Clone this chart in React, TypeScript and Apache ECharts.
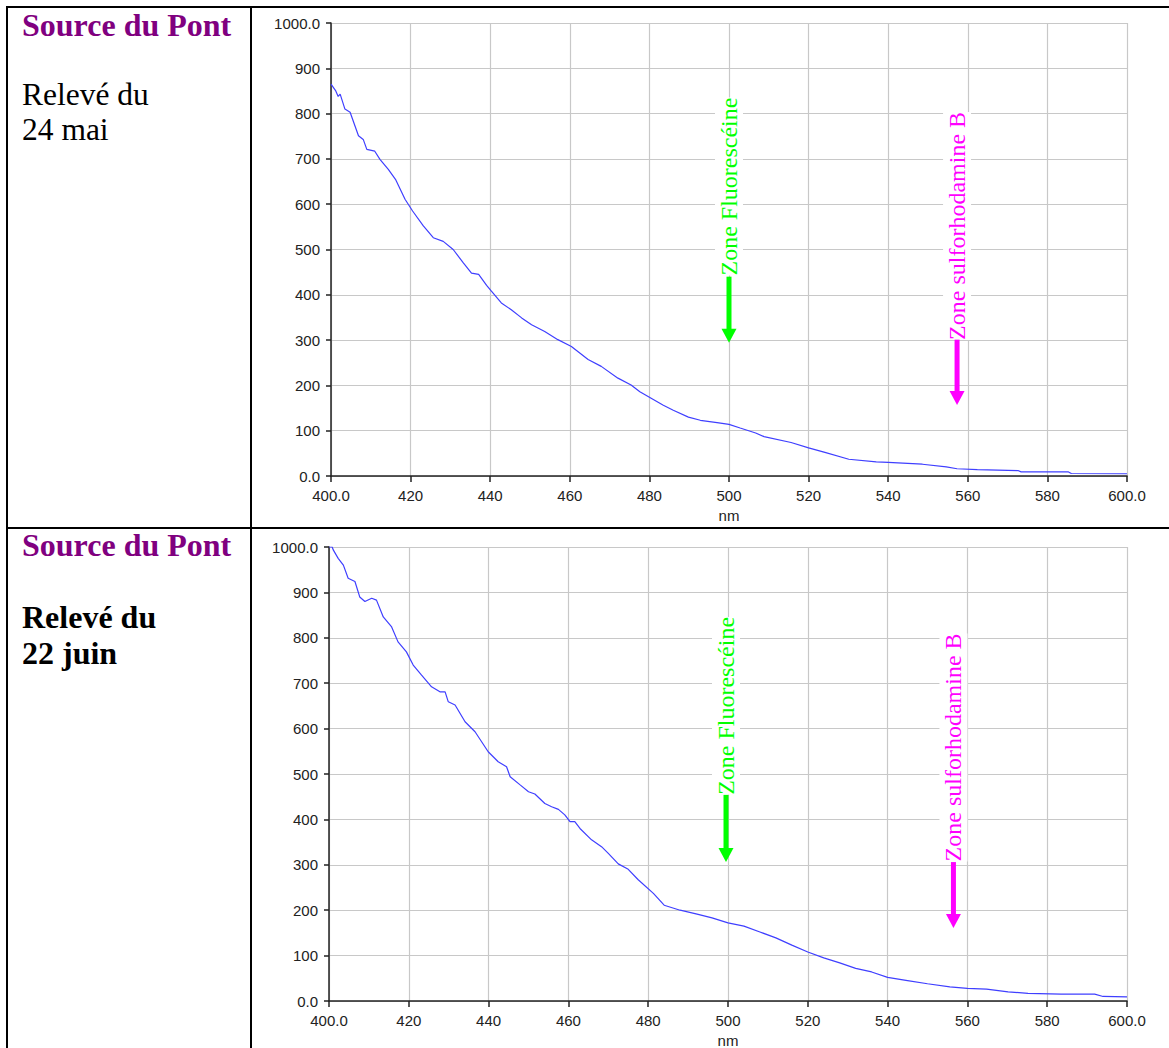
import React, { useEffect, useRef } from "react";
import * as echarts from "echarts";

// ---- Data: relevé du 24 mai ----
const nm1 = [
  400, 401.2, 401.8, 402.3, 403.5, 404.8, 406.9, 408.1, 409, 411, 412.3, 414.4, 416.2,
  418.6, 420.5, 423.2, 425.7, 428.2, 430.7, 433.2, 435.3, 437.1, 439.1, 440.3, 442.8,
  445.3, 447.9, 450.4, 453.7, 457, 460.4, 464.6, 467.9, 472.1, 475.4, 477.6, 480,
  483.5, 486, 489.8, 492.8, 497, 500, 502.8, 506.7, 508.8, 515.6, 520, 524.1, 530.1,
  537, 540, 548.6, 554.6, 557.3, 562.4, 572.6, 573.4, 585.3, 586, 600,
];
const val1 = [
  865, 850, 838, 843, 810, 803, 751, 743, 721, 717, 699, 677, 655,
  611, 585, 552, 526, 518, 500, 471, 448, 445, 421, 408, 382,
  367, 349, 334, 319, 301, 286, 257, 242, 216, 201, 186, 174,
  156, 145, 130, 123, 118, 114, 106, 95, 87, 74, 62, 52, 37,
  31, 30, 26, 20, 16, 14, 12, 9, 9, 5.5, 5,
];

// ---- Data: relevé du 22 juin ----
const nm2 = [
  400, 400.8, 401.1, 402.3, 403.6, 404.8, 406.5, 407.7, 409, 410.7, 411.9, 413.6, 415.7,
  417.3, 419.4, 421.1, 423.2, 425.7, 427.8, 429.1, 429.9, 431.6, 434.1, 436.6, 439.9,
  442.4, 444.5, 445.4, 447.9, 450, 451.6, 454.1, 455.8, 457.5, 459.1, 460.4, 461.6,
  462.9, 465.8, 468.3, 470, 472.5, 475, 477.5, 481.3, 484, 488, 492, 496, 500, 504,
  508, 512, 516, 520, 524, 528, 532, 536, 540, 545, 550, 555.6, 560, 564.8, 570.2,
  575.2, 583.5, 591.9, 594, 600,
];
const val2 = [
  1000, 1000, 993, 975, 960, 931, 924, 890, 880, 887, 883, 846, 824,
  791, 769, 740, 718, 692, 681, 681, 659, 652, 615, 593, 549,
  527, 516, 494, 476, 461, 456, 435, 428, 422, 410, 395, 395,
  380, 355, 340, 325, 302, 290, 267, 237, 211, 200, 192, 183, 172, 165,
  152, 139, 123, 108, 95, 84, 72, 64, 52, 45, 38, 31, 28, 26, 20,
  17, 15, 15, 10, 9,
];

// Annotations (data coordinates: nm, intensity)
const annotations1 = [
  { label: "Zone Fluorescéine", color: "#00ff00", nm: 500, top: 838, bottom: 440, tip: 294 },
  { label: "Zone sulforhodamine B", color: "#ff00ff", nm: 557.3, top: 803, bottom: 301, tip: 157 },
];
const annotations2 = [
  { label: "Zone Fluorescéine", color: "#00ff00", nm: 499.5, top: 846, bottom: 454, tip: 306 },
  { label: "Zone sulforhodamine B", color: "#ff00ff", nm: 556.5, top: 811, bottom: 306, tip: 161 },
];

type Ann = { label: string; color: string; nm: number; top: number; bottom: number; tip: number };

const AXIS_COLOR = "#222";
const LABEL_FONT = "Liberation Sans";

function buildOption(nm: number[], val: number[], grid: any, nameGap: number) {
  return {
    animation: false,
    backgroundColor: "#ffffff",
    grid: { ...grid, containLabel: false, outerBoundsMode: "none" },
    xAxis: {
      type: "value",
      min: 400,
      max: 600,
      interval: 20,
      name: "nm",
      nameLocation: "middle",
      nameGap,
      nameTextStyle: { color: AXIS_COLOR, fontSize: 15, fontFamily: LABEL_FONT },
      axisLine: { show: true, onZero: false, lineStyle: { color: AXIS_COLOR, width: 1.5 } },
      axisTick: { show: true, length: 6, lineStyle: { color: AXIS_COLOR, width: 1.5 } },
      axisLabel: {
        color: AXIS_COLOR,
        fontSize: 15,
        fontFamily: LABEL_FONT,
        margin: 12,
        showMinLabel: true,
        showMaxLabel: true,
        formatter: (v: number) => (v === 400 || v === 600 ? v.toFixed(1) : String(v)),
      },
      splitLine: { show: true, lineStyle: { color: "#c8c8c8", width: 1.2 } },
    },
    yAxis: {
      type: "value",
      min: 0,
      max: 1000,
      interval: 100,
      axisLine: { show: true, lineStyle: { color: AXIS_COLOR, width: 1.5 } },
      axisTick: { show: true, length: 5, lineStyle: { color: AXIS_COLOR, width: 1.5 } },
      axisLabel: {
        color: AXIS_COLOR,
        fontSize: 15,
        fontFamily: LABEL_FONT,
        margin: 11,
        padding: [0, 0, 8, 0],
        showMinLabel: true,
        showMaxLabel: true,
        formatter: (v: number) => (v === 0 || v === 1000 ? v.toFixed(1) : String(v)),
      },
      splitLine: { show: true, lineStyle: { color: "#c8c8c8", width: 1.2 } },
    },
    series: [
      {
        type: "line",
        data: nm.map((x, i) => [x, val[i]]),
        showSymbol: false,
        symbol: "none",
        lineStyle: { color: "#3f3fff", width: 1.2 },
        z: 3,
      },
    ],
  };
}

function Spectrum(props: {
  nm: number[];
  val: number[];
  grid: any;
  nameGap: number;
  annotations: Ann[];
  style: React.CSSProperties;
}) {
  const ref = useRef<HTMLDivElement>(null);
  useEffect(() => {
    if (!ref.current) return;
    const chart = echarts.init(ref.current, null, { renderer: "svg" });
    chart.setOption(buildOption(props.nm, props.val, props.grid, props.nameGap) as any);
    const elements: any[] = [];
    props.annotations.forEach((a) => {
      const pTop = chart.convertToPixel({ gridIndex: 0 }, [a.nm, a.top]) as number[];
      const pBot = chart.convertToPixel({ gridIndex: 0 }, [a.nm, a.bottom]) as number[];
      const pTip = chart.convertToPixel({ gridIndex: 0 }, [a.nm, a.tip]) as number[];
      const px = pTop[0];
      elements.push({
        type: "text",
        x: px,
        y: (pTop[1] + pBot[1]) / 2,
        rotation: Math.PI / 2,
        z: 100,
        style: {
          text: a.label,
          fill: a.color,
          font: '24px "Liberation Serif"',
          align: "center",
          verticalAlign: "middle",
          backgroundColor: "#ffffff",
          lineHeight: 28,
        },
      });
      elements.push({
        type: "line",
        z: 100,
        shape: { x1: px, y1: pBot[1], x2: px, y2: pTip[1] - 12 },
        style: { stroke: a.color, lineWidth: 5 },
      });
      elements.push({
        type: "polygon",
        z: 100,
        shape: { points: [[px - 7.5, pTip[1] - 14], [px + 7.5, pTip[1] - 14], [px, pTip[1]]] },
        style: { fill: a.color },
      });
    });
    chart.setOption({ graphic: elements });
    return () => chart.dispose();
  }, []);
  return <div ref={ref} style={props.style} />;
}

const serif = '"Liberation Serif", "Times New Roman", serif';

function Line(props: { text: string; baseline: number; bold?: boolean; color?: string; size: number }) {
  const lh = 36;
  const top = props.baseline - (lh - props.size * 1.107) / 2 - props.size * 0.891;
  return (
    <div
      style={{
        position: "absolute",
        left: 22,
        top,
        fontFamily: serif,
        fontSize: props.size,
        lineHeight: lh + "px",
        fontWeight: props.bold ? "bold" : "normal",
        color: props.color || "#000",
        whiteSpace: "nowrap",
      }}
    >
      {props.text}
    </div>
  );
}

export default function App() {
  const bar = (s: React.CSSProperties) => <div style={{ position: "absolute", background: "#000", ...s }} />;
  return (
    <div style={{ position: "absolute", left: 0, top: 0, width: 1169, height: 1048, overflow: "hidden", background: "#fff" }}>
      <Spectrum
        nm={nm1}
        val={val1}
        annotations={annotations1}
        nameGap={32}
        grid={{ left: 79, right: 42, top: 15, bottom: 51 }}
        style={{ position: "absolute", left: 252, top: 8, width: 917, height: 519 }}
      />
      <Spectrum
        nm={nm2}
        val={val2}
        annotations={annotations2}
        nameGap={29}
        grid={{ left: 77, right: 42, top: 18, bottom: 47 }}
        style={{ position: "absolute", left: 252, top: 529, width: 917, height: 519 }}
      />
      {bar({ left: 6, top: 6, width: 1163, height: 2 })}
      {bar({ left: 6, top: 6, width: 2, height: 1042 })}
      {bar({ left: 250, top: 6, width: 2, height: 1042 })}
      {bar({ left: 6, top: 527, width: 1163, height: 2 })}

      <Line text="Source du Pont" baseline={36} bold color="#800080" size={32} />
      <Line text="Relevé du" baseline={106} size={31.5} />
      <Line text="24 mai" baseline={141} size={31.5} />

      <Line text="Source du Pont" baseline={556} bold color="#800080" size={32} />
      <Line text="Relevé du" baseline={628} bold size={32} />
      <Line text="22 juin" baseline={664} bold size={32} />
    </div>
  );
}
